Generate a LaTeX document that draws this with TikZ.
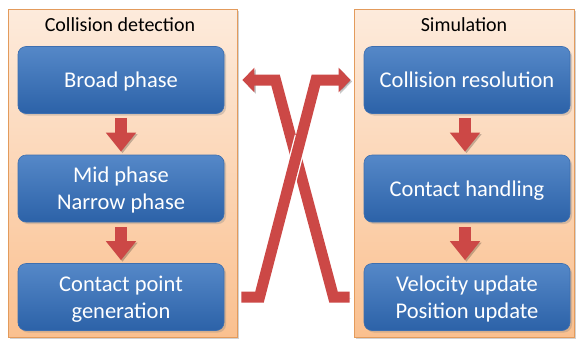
\documentclass[tikz,border=0pt]{standalone}
\usepackage{fontspec}
\setmainfont{Carlito}
\usetikzlibrary{calc,shadows,arrows.meta}
\definecolor{panelTop}{HTML}{FDEBDC}
\definecolor{panelBot}{HTML}{FAC08F}
\definecolor{panelEdge}{HTML}{E39B5C}
\definecolor{boxTop}{HTML}{5588C8}
\definecolor{boxBot}{HTML}{2C62A8}
\definecolor{boxEdge}{HTML}{3D6FB0}
\definecolor{arrowRed}{HTML}{CC4846}
\newcommand\boxtext[1]{\raisebox{-2.5pt}[\height][\depth]{\begin{tabular}{@{}c@{}}#1\end{tabular}}}
\begin{document}
\begin{tikzpicture}[x=1pt,y=-1pt,
 panel/.style={draw=panelEdge, line width=0.8pt, top color=panelTop, bottom color=panelBot,
   minimum width=#1, minimum height=328pt, inner sep=0pt,
   drop shadow={shadow xshift=2pt,shadow yshift=-2pt,opacity=0.35}},
 ptitle/.style={font=\fontsize{20}{24}\selectfont, text=black, anchor=base},
 box/.style={rounded corners=8pt, minimum width=206pt, minimum height=67pt, inner sep=0pt,
   top color=boxTop, bottom color=boxBot, draw=boxEdge, line width=0.6pt,
   text=white, font=\fontsize{22.5}{27}\selectfont,
   drop shadow={shadow xshift=2pt,shadow yshift=-2pt,opacity=0.3}},
 arrshadow/.style={preaction={draw=black, opacity=0.22, transform canvas={shift={(1.5pt,-1.5pt)}}}},
 downarr/.style={draw=arrowRed, line width=12pt, -{Triangle[length=19pt,width=29pt]}, arrshadow},
 xarr/.style={draw=arrowRed, line width=11pt, line join=miter, -{Triangle[length=12pt,width=24pt]}, arrshadow},
 gap/.style={draw=white, line width=13.5pt},
]
\fill[white] (0,0) rectangle (577,343);
\useasboundingbox (0,0) rectangle (577,343);

% panels
\node[panel=229pt] (lp) at (122.5,173) {};
\node[panel=220pt] (rp) at (464,173) {};
\node[ptitle] (lt) at (120,31) {Collision detection};
\node[ptitle] (rt) at (464,31) {Simulation};

% boxes
\node[box] (b1) at (121,80) {\boxtext{Broad phase}};
\node[box] (b2) at (121,188.5) {\boxtext{Mid phase\\Narrow phase}};
\node[box] (b3) at (121,297) {\boxtext{Contact point\\generation}};
\node[box] (b4) at (467,80) {\boxtext{Collision resolution}};
\node[box] (b5) at (467,188.5) {\boxtext{Contact handling}};
\node[box] (b6) at (467,297) {\boxtext{Velocity update\\Position update}};

% down arrows
\draw[downarr] ($(b1.south)+(0,4)$) -- ($(b2.north)+(0,-3)$);
\draw[downarr] ($(b2.south)+(0,5)$) -- ($(b3.north)+(0,-3)$);
\draw[downarr] ($(b4.south)+(-2,4)$) -- ($(b5.north)+(-2,-3)$);
\draw[downarr] ($(b5.south)+(-2,5)$) -- ($(b6.north)+(-2,-3)$);

% crossing arrows
\coordinate (s1) at ($(rp.west |- b6.center)+(-4,0)$);
\coordinate (c1a) at (333.5,297);
\coordinate (c1b) at (275.5,80);
\coordinate (e1) at ($(lp.east |- b1.center)+(5,0)$);
\coordinate (s2) at ($(lp.east |- b3.center)+(4,0)$);
\coordinate (c2a) at (259.5,297);
\coordinate (c2b) at (316,80);
\coordinate (e2) at ($(rp.west |- b4.center)+(-3,0)$);

\draw[xarr] (s1) -- (c1a) -- (c1b) -- (e1);
\draw[gap] ($(c2a)!0.52!(c2b)$) -- ($(c2a)!0.74!(c2b)$);
\draw[xarr] (s2) -- (c2a) -- (c2b) -- (e2);
\end{tikzpicture}
\end{document}
